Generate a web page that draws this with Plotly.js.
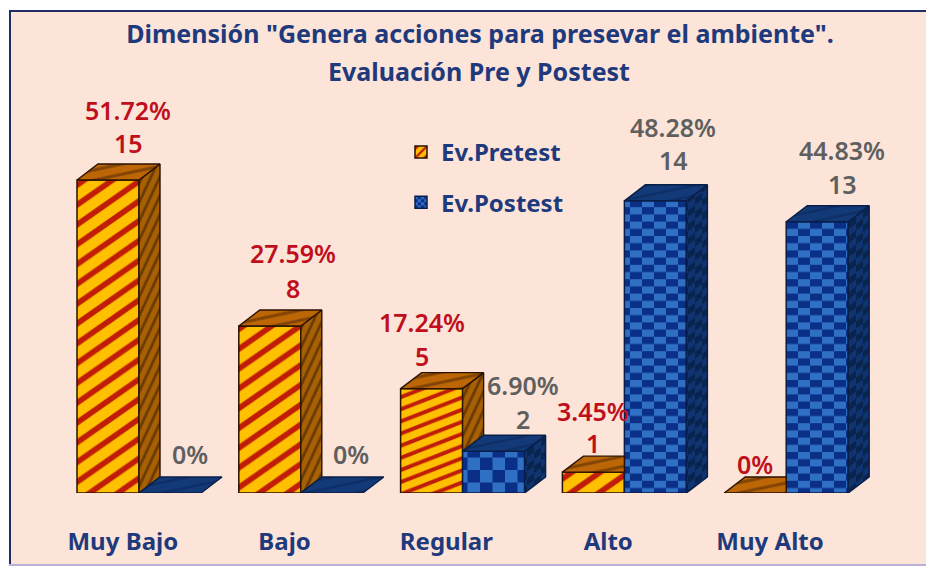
<!DOCTYPE html>
<html><head><meta charset="utf-8">
<script src="https://cdn.plot.ly/plotly-3.0.1.min.js"></script>
<style>html,body{margin:0;padding:0;background:#fff}</style></head>
<body><div id="chart" style="width:926px;height:567px"></div>
<script>
const categories = ["Muy Bajo","Bajo","Regular","Alto","Muy Alto"];
const pretest = [15,8,5,1,0];
const postest = [0,0,2,14,13];
const pretestPct = ["51.72%","27.59%","17.24%","3.45%","0%"];
const postestPct = ["0%","0%","6.90%","48.28%","44.83%"];
const pretestCount = ["15","8","5","1",""];
const postestCount = ["","","2","14","13"];

// label placement tuning, in pixels relative to each bar's top
const preXShift = [20,23,-10,0,0];
const prePctRise = [70,73,67,61,29];
const preCountRise = [37,38,33,29,0];
const postXShift = [20,19,29,18,25];
const postPctRise = [39,39,66,74,72];
const postCountRise = [0,0,32,41,38];

const W=926,H=567,L=30,R=910,T=20,B=493;
const pitch=161.8, unit=20.87, barPx=62, dxPx=21, dyPx=16;
const x0range=(L-139)/pitch, x1range=(R-139)/pitch;
const bw=barPx/pitch, dx=dxPx/pitch, dy=dyPx/unit;
const idx=categories.map((_,i)=>i);

const C={ preFront:'#FFC000', preStripe:'#C01C08', preSide:'#A86004', preTop:'#BC6606',
 postFront:'#0A2F86', postLight:'#2F6FC4', postSide:'#103470', postTop:'#133A78', line:'#2A1200', lineB:'#081E48',
 title:'#1F3A7C', red:'#C00F1C', grey:'#5F5F5F'};

function poly(xs,ys,pts){ pts.forEach(p=>{xs.push(p[0]);ys.push(p[1]);}); xs.push(pts[0][0]);ys.push(pts[0][1]); xs.push(null);ys.push(null);}
const pS={x:[],y:[]},pT={x:[],y:[]},qS={x:[],y:[]},qT={x:[],y:[]};
idx.forEach(i=>{
  const a=pretest[i],b=postest[i],l=i-bw,m=i,r=i+bw;
  if(a>b) poly(pS.x,pS.y,[[m,b],[m+dx,b+dy],[m+dx,a+dy],[m,a]]);
  if(a>b) poly(pT.x,pT.y,[[l,a],[m,a],[m+dx,a+dy],[l+dx,a+dy]]);
  else poly(pT.x,pT.y,[[l,a],[m,a],[m,a+dy],[l+dx,a+dy]]);
  if(b>0) poly(qS.x,qS.y,[[r,0],[r+dx,dy],[r+dx,b+dy],[r,b]]);
  poly(qT.x,qT.y,[[m,b],[r,b],[r+dx,b+dy],[m+dx,b+dy]]);
});
function face(d,bg,fg,shape,size,sol,ln){
  return {type:'scatter',mode:'lines',x:d.x,y:d.y,fill:'toself',fillcolor:bg,showlegend:false,hoverinfo:'skip',
    line:{color:ln,width:1.4},fillpattern:{shape:shape,bgcolor:bg,fgcolor:fg,size:size,solidity:sol}};
}
const traces=[
 {type:'bar',name:'Ev.Pretest',legendgroup:'a',x:idx,y:pretest,hoverinfo:'skip',
  marker:{color:C.preFront,line:{color:C.line,width:1.5},
   pattern:{shape:'/',bgcolor:C.preFront,fgcolor:C.preStripe,size:[20,20,22,20,20],solidity:0.35}}},
 {type:'bar',name:'Ev.Postest',legendgroup:'b',x:idx,y:postest,hoverinfo:'skip',
  marker:{color:C.postFront,line:{color:C.lineB,width:1.5},
   pattern:{shape:'+',bgcolor:C.postFront,fgcolor:C.postLight,size:[24,24,25,24,24],solidity:0.3}}},
 face(pS,C.preSide,'#6A3A04','/',8,0.35,C.line),
 face(pT,C.preTop,'#824404','/',10,0.3,C.line),
 face(qS,C.postSide,'#0A2450','+',14,0.3,C.lineB),
 face(qT,C.postTop,'#0E2E66','/',10,0.25,C.lineB)
];

const font='"Noto Sans",sans-serif';
const anns=[];
function lab(xv,yv,txt,col,xs,ys){
  if(txt) anns.push({x:xv,y:yv,xref:'x',yref:'y',text:txt,showarrow:false,xanchor:'center',yanchor:'middle',
    font:{family:font,size:25,color:col,weight:600},xshift:xs,yshift:ys});
}
idx.forEach(i=>{
  lab(i-bw/2,pretest[i],pretestPct[i],C.red,preXShift[i],prePctRise[i]);
  lab(i-bw/2,pretest[i],pretestCount[i],C.red,preXShift[i],preCountRise[i]);
  lab(i+bw/2,postest[i],postestPct[i],C.grey,postXShift[i],postPctRise[i]);
  lab(i+bw/2,postest[i],postestCount[i],C.grey,postXShift[i],postCountRise[i]);
});
anns.push({xref:'paper',yref:'paper',x:(479-L)/(R-L),y:(B-71)/(B-T),text:'Evaluación Pre y Postest',showarrow:false,
  xanchor:'center',yanchor:'middle',font:{family:font,size:25,color:C.title,weight:700}});

const px=v=>(v-L)/(R-L), py=v=>(B-v)/(B-T);
const layout={
 width:W,height:H,margin:{l:L,r:W-R,t:T,b:H-B,pad:0},
 paper_bgcolor:'#FFFFFF',plot_bgcolor:'rgba(0,0,0,0)',
 title:{text:'Dimensión "Genera acciones para presevar el ambiente".',font:{family:font,size:25,color:C.title,weight:700},
   x:480/W,xanchor:'center',y:1-34/H,yanchor:'middle'},
 barmode:'group',bargap:1-2*barPx/pitch,bargroupgap:0,
 xaxis:{range:[x0range,x1range],tickmode:'array',tickvals:idx.map(i=>i-0.1),ticktext:categories,
   showgrid:false,zeroline:false,showline:false,ticks:'',ticklabelstandoff:32,
   tickfont:{family:font,size:24,color:C.title,weight:700},fixedrange:true},
 yaxis:{range:[0,(B-T)/unit],showgrid:false,zeroline:false,showline:false,showticklabels:false,ticks:'',fixedrange:true},
 legend:{x:px(401),y:py(130),xanchor:'left',yanchor:'top',bgcolor:'rgba(0,0,0,0)',tracegroupgap:16,
   font:{family:font,size:24,color:C.title,weight:700},itemwidth:30},
 annotations:anns,
 shapes:[
  {type:'rect',xref:'paper',yref:'paper',x0:px(9),x1:px(926),y0:py(565),y1:py(10),line:{width:0},fillcolor:'#FCE4D8',layer:'below'},
  {type:'line',xref:'paper',yref:'paper',x0:px(10),x1:px(10),y0:py(565),y1:py(10),line:{color:'#1F2F66',width:2},layer:'below'},
  {type:'line',xref:'paper',yref:'paper',x0:px(9),x1:px(926),y0:py(11),y1:py(11),line:{color:'#1F2F66',width:2},layer:'below'},
  {type:'line',xref:'paper',yref:'paper',x0:px(9),x1:px(926),y0:py(565),y1:py(565),line:{color:'#B9B0D6',width:2},layer:'below'}
 ],
 showlegend:true
};
const gd=document.getElementById('chart');
function refine(){
  const NS='http://www.w3.org/2000/svg';
  gd.querySelectorAll('pattern').forEach(p=>{
    const rect=p.querySelector('rect'); if(!rect) return;
    const st=rect.getAttribute('fill')||''; const isLegend=p.id.indexOf('legend')>=0;
    const is=(hex)=>{const n=parseInt(hex.slice(1),16);return st===`rgb(${n>>16}, ${(n>>8)&255}, ${n&255})`;};
    const s=parseFloat(p.getAttribute('width'));
    const set=t=>{ if(!isLegend) p.setAttribute('patternTransform',t); };
    if(is(C.preFront)) set(s>30?'scale(1,0.39)':'scale(1,0.7)');
    if(is(C.preSide)) set('rotate(-20)');
    if(is(C.preTop)||is(C.postTop)) set('rotate(33)');
    if(is(C.postFront)||is(C.postSide)){
      const light=is(C.postFront)?C.postLight:'#0A2450';
      p.querySelectorAll('path').forEach(e=>e.remove());
      [[0,0],[s/2,s/2]].forEach(o=>{const r=document.createElementNS(NS,'rect');
        r.setAttribute('x',o[0]);r.setAttribute('y',o[1]);r.setAttribute('width',s/2);r.setAttribute('height',s/2);
        r.setAttribute('fill',light);p.appendChild(r);});
      if(is(C.postFront)) set(s===24?'scale(1,0.6)':'');
      else set('skewY(-37)');
    }
  });
}
Plotly.newPlot(gd,traces,layout,{displayModeBar:false,staticPlot:true}).then(refine);
</script></body></html>
